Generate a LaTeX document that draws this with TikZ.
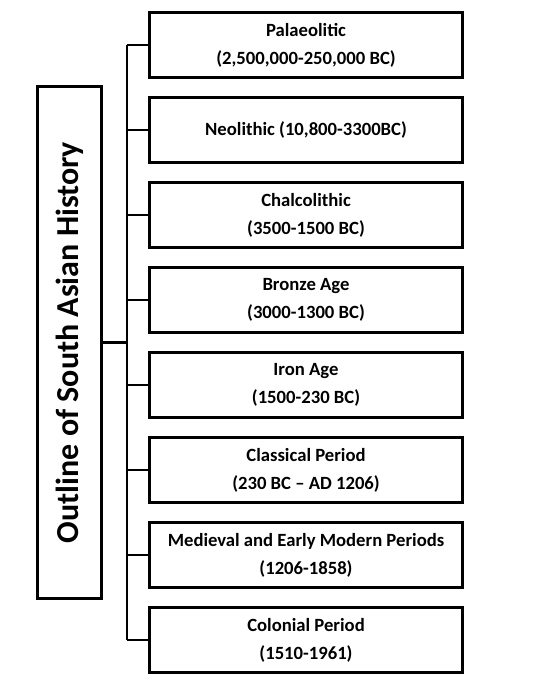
\documentclass[tikz,border=0pt]{standalone}
\usepackage{fontspec}
\setmainfont{Carlito}
\usepackage{tikz}

\tikzset{
  period/.style={draw, line width=2.25pt, minimum width=234.75pt, minimum height=48.75pt,
    align=center, inner sep=0pt, font=\bfseries\fontsize{14}{21}\selectfont},
  branch/.style={line width=1.6pt}
}

\begin{document}
\begin{tikzpicture}[x=0.75pt, y=-0.75pt]

\useasboundingbox (0,0) rectangle (551,681);

\node[draw, line width=2.25pt, minimum width=48pt, minimum height=384pt, inner sep=0pt] (hist) at (69.5,342.5)
  {\rotatebox{90}{\bfseries\fontsize{24}{28}\selectfont Outline of South Asian History}};

\node[period] (pal) at (306,45) {Palaeolitic\\(2,500,000-250,000 BC)};
\node[period] (neo) at (306,130) {Neolithic (10,800-3300BC)};
\node[period] (chal) at (306,215) {Chalcolithic\\(3500-1500 BC)};
\node[period] (bronze) at (306,300) {Bronze Age\\(3000-1300 BC)};
\node[period] (iron) at (306,385) {Iron Age\\(1500-230 BC)};
\node[period] (class) at (306,470) {Classical Period\\(230 BC -- AD 1206)};
\node[period] (med) at (306,555) {Medieval and Early Modern Periods\\(1206-1858)};
\node[period] (col) at (306,640) {Colonial Period\\(1510-1961)};

\coordinate (trunk) at (127,342.5);

\draw[branch] (hist.east) -- (trunk);
\draw[branch] (trunk |- pal.west) -- (trunk |- col.west);
\draw[branch] (trunk |- pal.west) -- (pal.west);
\draw[branch] (trunk |- neo.west) -- (neo.west);
\draw[branch] (trunk |- chal.west) -- (chal.west);
\draw[branch] (trunk |- bronze.west) -- (bronze.west);
\draw[branch] (trunk |- iron.west) -- (iron.west);
\draw[branch] (trunk |- class.west) -- (class.west);
\draw[branch] (trunk |- med.west) -- (med.west);
\draw[branch] (trunk |- col.west) -- (col.west);

\end{tikzpicture}
\end{document}
